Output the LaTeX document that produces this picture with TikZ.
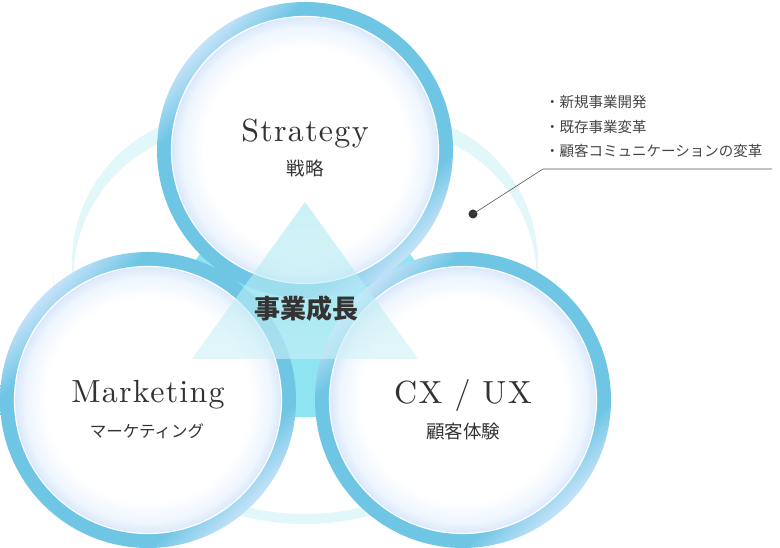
\documentclass[tikz,border=0pt]{standalone}
\usepackage{fontspec}
\newfontfamily\cjk{Noto Sans CJK JP}
\newfontfamily\titlefont{lmroman10-regular.otf}[LetterSpace=4.0]
\definecolor{ringblue}{HTML}{6EC6E4}
\definecolor{ringlight}{HTML}{C4E2F9}
\definecolor{disklight}{HTML}{D8E8FB}
\definecolor{bandcol}{HTML}{E2F7FA}
\definecolor{cyantri}{HTML}{8EE4F0}
\definecolor{paletop}{HTML}{A6E8F2}
\definecolor{palebot}{HTML}{CFF1F7}
\definecolor{txt}{HTML}{333333}
\definecolor{listtxt}{HTML}{444444}
\definecolor{leader}{HTML}{555555}
\pgfdeclarehorizontalshading{ringshade}{100bp}{color(0bp)=(ringlight); color(25bp)=(ringlight); color(32bp)=(ringblue); color(68bp)=(ringblue); color(75bp)=(ringlight); color(100bp)=(ringlight)}
\pgfdeclareradialshading{diskshade}{\pgfpoint{0bp}{0bp}}{color(0bp)=(white); color(19bp)=(white); color(23bp)=(disklight!40!white); color(25bp)=(disklight); color(50bp)=(disklight)}
\begin{document}
\begin{tikzpicture}[x=1pt,y=1pt,
  ringnode/.style={circle, minimum size=296pt, inner sep=0pt, outer sep=0pt, shading=ringshade, shading angle=-45},
  disknode/.style={circle, minimum size=267pt, inner sep=0pt, outer sep=0pt, shading=diskshade, draw=white, line width=1.2pt},
  titletxt/.style={anchor=base, text=txt, inner sep=0pt, font=\titlefont\fontsize{32}{38}\selectfont},
  subtxt/.style={text=txt, inner sep=0pt, font=\cjk\fontsize{18.5}{22}\selectfont},
  listitem/.style={anchor=west, text=listtxt, inner sep=0pt, font=\cjk\fontsize{14.5}{17}\selectfont},
  band/.style={fill=bandcol}
]
\useasboundingbox (0,0) rectangle (780,548);
% faint background band (three crescents)
\begin{scope}
  \clip (222,285) circle[radius=150];
  \fill[band, even odd rule] (222,285) circle[radius=165] (223.3,269) circle[radius=150];
\end{scope}
\begin{scope}
  \clip (388,285) circle[radius=150];
  \fill[band, even odd rule] (388,285) circle[radius=165] (386.7,269) circle[radius=150];
\end{scope}
\begin{scope}
  \clip (305,276) circle[radius=252];
  \fill[band, even odd rule] (305,276) circle[radius=270] (305,286) circle[radius=252];
\end{scope}
% large cyan triangle behind
\fill[cyantri] (305,434) -- (78,131) -- (532,131) -- cycle;
% three circles
\node[ringnode] (strat) at (305,398) {};
\node[disknode] (stratdisk) at (strat) {};
\node[ringnode] (mkt) at (148,148) {};
\node[disknode] (mktdisk) at (mkt) {};
\node[ringnode] (cx) at (463,148) {};
\node[disknode] (cxdisk) at (cx) {};
% pale triangle in front
\shade[top color=paletop, middle color=white, bottom color=palebot, fill opacity=0.6] (305,346) -- (192,189) -- (418,189) -- cycle;
% texts
\node[titletxt] (strattitle) at (305,406) {Strategy};
\node[subtxt] (stratsub) at (305,380) {戦略};
\node[titletxt] (mkttitle) at (148,145) {Marketing};
\node[subtxt, font=\cjk\fontsize{16.5}{20}\selectfont] (mktsub) at (147,117) {マーケティング};
\node[titletxt] (cxtitle) at (463,144) {CX / UX};
\node[subtxt] (cxsub) at (463,117) {顧客体験};
\node[text=txt, inner sep=0pt, font=\cjk\bfseries\fontsize{26}{30}\selectfont] (growth) at (306,239) {事業成長};
% list and leader
\node[listitem] (item1) at (545,446) {・新規事業開発};
\node[listitem] (item2) at (545,421) {・既存事業変革};
\node[listitem] (item3) at (545,397) {・顧客コミュニケーションの変革};
\node[circle, fill=txt, minimum size=9pt, inner sep=0pt] (dot) at (473,334) {};
\coordinate (bend) at (543,379);
\coordinate (lineend) at (772,379);
\draw[leader, line width=0.6pt] (dot.center) -- (bend) -- (lineend);
\end{tikzpicture}
\end{document}
